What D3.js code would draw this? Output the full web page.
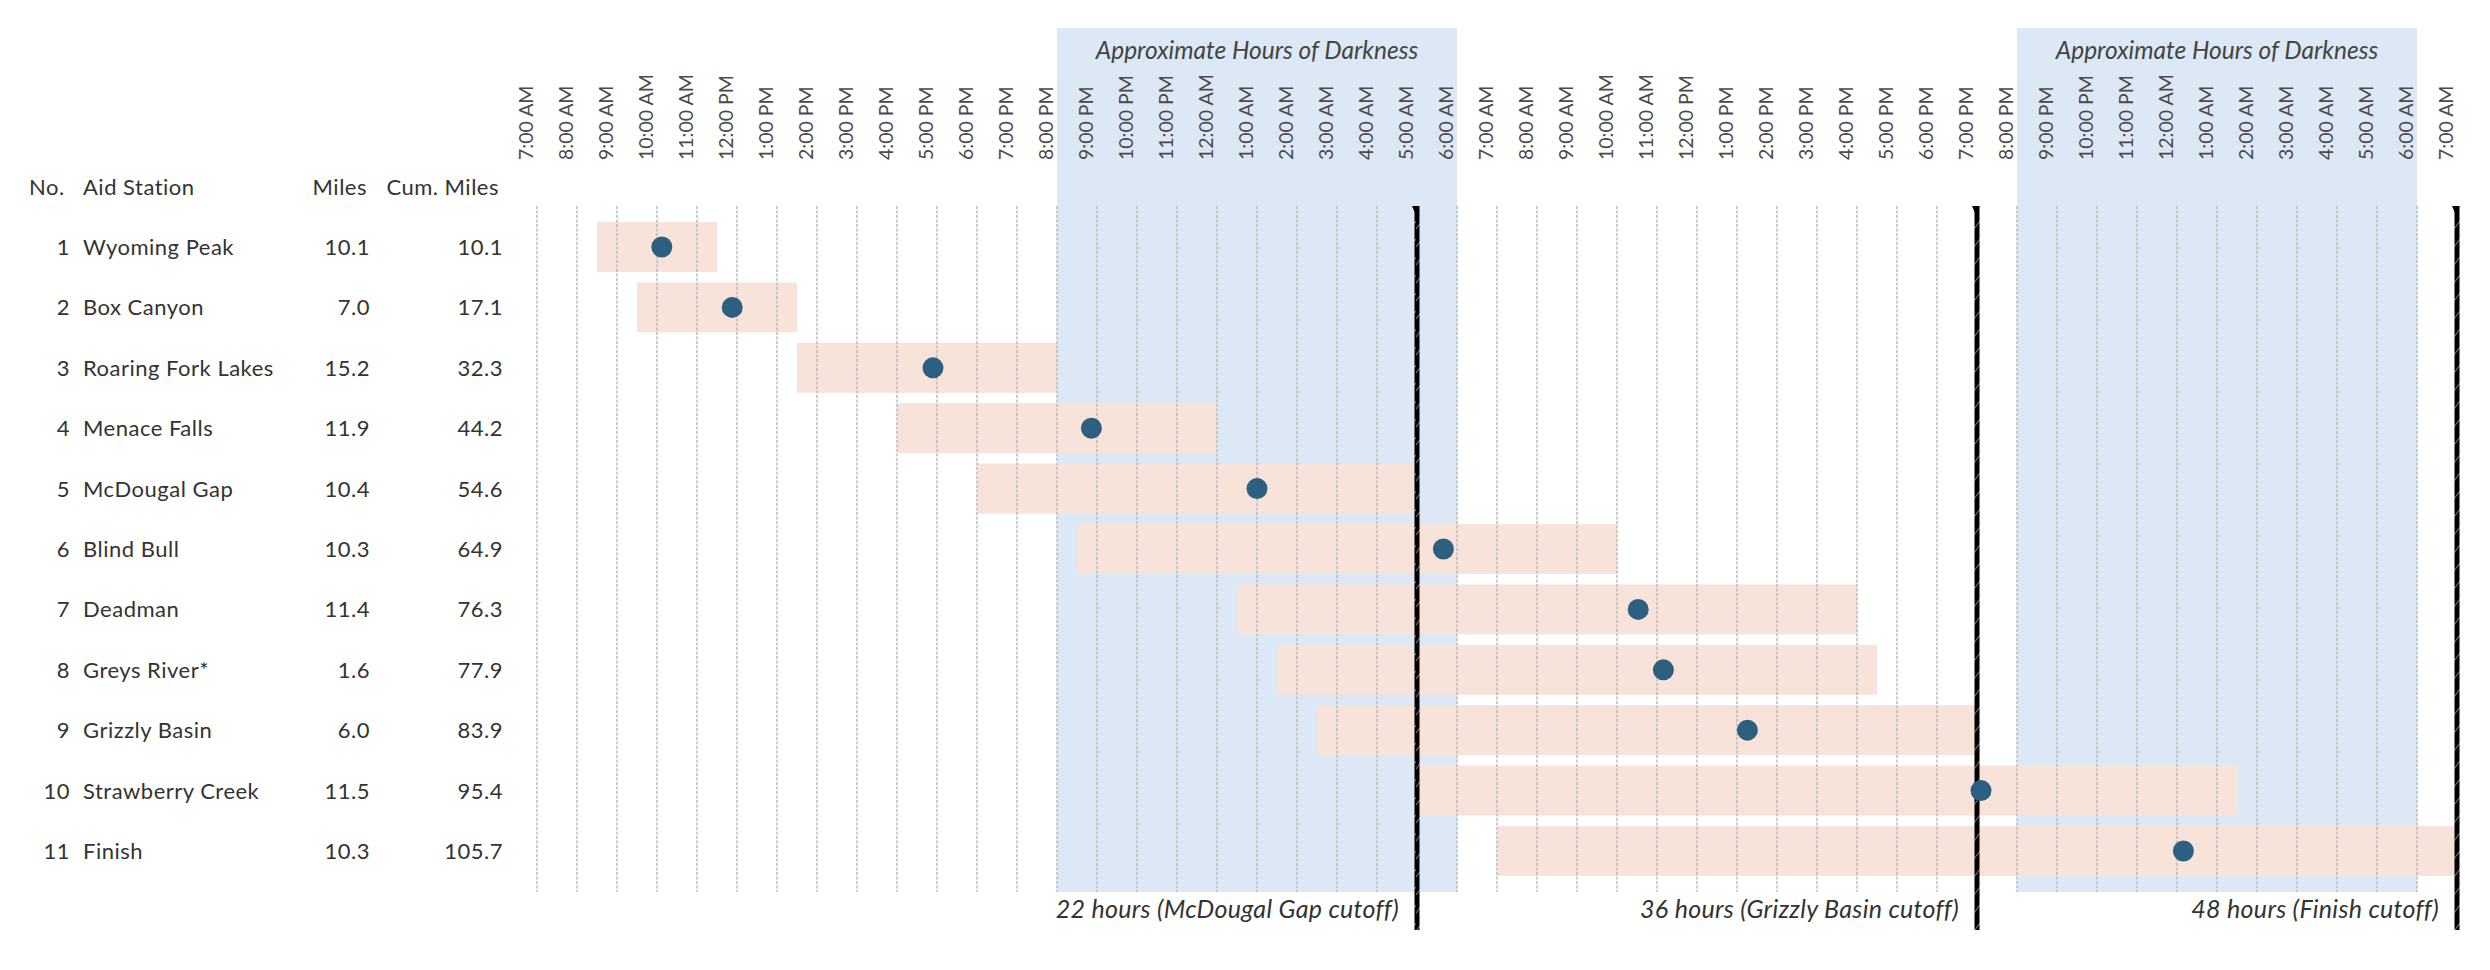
<!DOCTYPE html>
<html>
<head>
<meta charset="utf-8">
<script src="https://cdn.jsdelivr.net/npm/d3@7"></script>
<style>
  html, body { margin: 0; padding: 0; background: #fff; }
  svg { display: block; }
  text { font-family: Lato, "Open Sans", sans-serif; }
</style>
</head>
<body>
<svg id="chart" width="2490" height="970"></svg>
<script>
// ---------------- DATA ----------------
const stationNo   = [1, 2, 3, 4, 5, 6, 7, 8, 9, 10, 11];
const stations    = ["Wyoming Peak", "Box Canyon", "Roaring Fork Lakes", "Menace Falls", "McDougal Gap",
                     "Blind Bull", "Deadman", "Greys River*", "Grizzly Basin", "Strawberry Creek", "Finish"];
const miles       = ["10.1", "7.0", "15.2", "11.9", "10.4", "10.3", "11.4", "1.6", "6.0", "11.5", "10.3"];
const cumMiles    = ["10.1", "17.1", "32.3", "44.2", "54.6", "64.9", "76.3", "77.9", "83.9", "95.4", "105.7"];
// hours elapsed since the 7:00 AM start
const openHours   = [1.5, 2.5, 6.5, 9, 11, 13.5, 17.5, 18.5, 19.5, 22, 24];
const closeHours  = [4.5, 6.5, 13, 17, 22, 27, 33, 33.5, 36, 42.5, 48];
const paceHours   = [3.12, 4.88, 9.9, 13.86, 18.0, 22.66, 27.53, 28.16, 30.26, 36.1, 41.16];
const darkStart   = [13, 37];
const darkEnd     = [23, 47];
const darkLabel   = "Approximate Hours of Darkness";
const cutoffHours = [22, 36, 48];
const cutoffLabels = ["22 hours (McDougal Gap cutoff)", "36 hours (Grizzly Basin cutoff)", "48 hours (Finish cutoff)"];
const headers     = ["No.", "Aid Station", "Miles", "Cum. Miles"];
const raceStart   = new Date(2019, 7, 16, 7, 0, 0);
const totalHours  = 48;

// ---------------- SCALES ----------------
const svg = d3.select("#chart");
const H = h => new Date(raceStart.getTime() + h * 3600 * 1000);
const x = d3.scaleTime().domain([raceStart, H(totalHours)]).range([537, 537 + 40 * totalHours]);
const y = d3.scaleBand().domain(stations).range([216.8, 216.8 + 60.4 * 11]).paddingInner(0.172).paddingOuter(0.086);

const gridTop = 206, gridBottom = 892;
const fmt = d3.timeFormat("%-I:%M %p");

// patterns for cutoff lines
const defs = svg.append("defs");
const pat = defs.append("pattern").attr("id", "cutpat").attr("patternUnits", "userSpaceOnUse")
  .attr("width", 6).attr("height", 18);
pat.append("rect").attr("width", 6).attr("height", 18).attr("fill", "#000");
pat.append("line").attr("x1", 0).attr("y1", 13).attr("x2", 6).attr("y2", 5)
  .attr("stroke", "#9a9a9a").attr("stroke-width", 0.9);

// ---------------- DARKNESS BANDS ----------------
const bands = svg.append("g");
darkStart.forEach((s, i) => {
  bands.append("rect")
    .attr("x", x(H(s))).attr("y", 28)
    .attr("width", x(H(darkEnd[i])) - x(H(s))).attr("height", gridBottom - 28)
    .attr("fill", "#dce8f5");
  bands.append("text")
    .attr("x", (x(H(s)) + x(H(darkEnd[i]))) / 2).attr("y", 59)
    .attr("text-anchor", "middle").attr("font-style", "italic")
    .attr("font-size", 24.5).attr("fill", "#444").text(darkLabel);
});

// ---------------- BARS ----------------
svg.append("g").selectAll("rect").data(stations).join("rect")
  .attr("x", (d, i) => x(H(openHours[i])))
  .attr("y", d => y(d))
  .attr("width", (d, i) => x(H(closeHours[i])) - x(H(openHours[i])))
  .attr("height", y.bandwidth())
  .attr("fill", "#f7e3d9");

// ---------------- GRID ----------------
const hourTicks = d3.timeHour.every(1).range(raceStart, H(totalHours + 0.01));
svg.append("g").selectAll("line").data(hourTicks).join("line")
  .attr("x1", d => x(d)).attr("x2", d => x(d))
  .attr("y1", gridTop).attr("y2", gridBottom)
  .attr("stroke", "#bcbcbc").attr("stroke-width", 1.5).attr("stroke-dasharray", "3,1.5");

// ---------------- TIME AXIS LABELS ----------------
const axisG = svg.append("g").attr("transform", "translate(0,160)")
  .call(d3.axisTop(x).ticks(d3.timeHour.every(1)).tickFormat(fmt).tickSize(0));
axisG.select(".domain").remove();
axisG.selectAll("text")
  .attr("transform", "rotate(-90)")
  .attr("x", 0).attr("y", -11).attr("dy", "0.35em")
  .attr("text-anchor", "start")
  .attr("font-family", "Lato, sans-serif")
  .attr("font-weight", 400)
  .attr("font-size", 19.5)
  .attr("fill", "#4a4a4a");

// ---------------- CUTOFF LINES ----------------
const cut = svg.append("g");
cutoffHours.forEach((c, i) => {
  const cx = x(H(c));
  cut.append("rect").attr("x", cx - 2.5).attr("y", gridTop).attr("width", 5).attr("height", 930 - gridTop)
    .attr("fill", "url(#cutpat)");
  cut.append("path").attr("d", `M${cx - 5},${gridTop} L${cx + 2.5},${gridTop} L${cx - 1},${gridTop + 9} Z`).attr("fill", "#000");
  cut.append("text").attr("x", cx - 18).attr("y", 918)
    .attr("text-anchor", "end").attr("font-style", "italic")
    .attr("font-size", 25).attr("letter-spacing", 0.3).attr("fill", "#333").text(cutoffLabels[i]);
});

// ---------------- PACE DOTS ----------------
svg.append("g").selectAll("circle").data(stations).join("circle")
  .attr("cx", (d, i) => x(H(paceHours[i])))
  .attr("cy", d => y(d) + y.bandwidth() / 2)
  .attr("r", 10.5)
  .attr("fill", "#2d5f80");

// ---------------- TABLE ----------------
const tbl = svg.append("g").attr("font-size", 22).attr("letter-spacing", 0.5).attr("fill", "#333");
const hdrY = 195;
tbl.append("text").attr("x", 29).attr("y", hdrY).text(headers[0]);
tbl.append("text").attr("x", 83).attr("y", hdrY).text(headers[1]);
tbl.append("text").attr("x", 367).attr("y", hdrY).attr("text-anchor", "end").text(headers[2]);
tbl.append("text").attr("x", 499).attr("y", hdrY).attr("text-anchor", "end").text(headers[3]);

const rows = tbl.selectAll("g.row").data(stations).join("g").attr("class", "row")
  .attr("transform", d => `translate(0,${y(d) + y.bandwidth() / 2})`);
rows.append("text").attr("x", 70).attr("dy", "0.36em").attr("text-anchor", "end").text((d, i) => stationNo[i]);
rows.append("text").attr("x", 83).attr("dy", "0.36em").text(d => d);
rows.append("text").attr("x", 370).attr("dy", "0.36em").attr("text-anchor", "end").text((d, i) => miles[i]);
rows.append("text").attr("x", 503).attr("dy", "0.36em").attr("text-anchor", "end").text((d, i) => cumMiles[i]);
</script>
</body>
</html>
